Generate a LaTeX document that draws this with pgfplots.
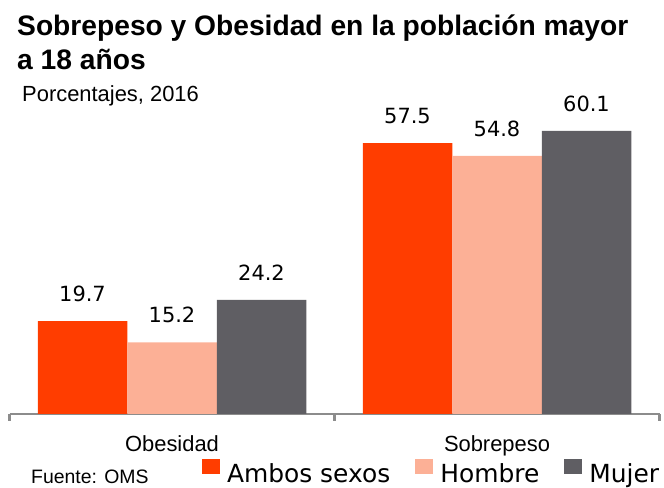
\documentclass[border=0pt]{standalone}
\usepackage{fontspec}
\setmainfont{Liberation Sans}
\newfontfamily\verd{DejaVu Sans}
\usepackage{pgfplots}
\pgfplotsset{compat=1.18}
\definecolor{ambos}{HTML}{FF3D00}
\definecolor{hombre}{HTML}{FCB096}
\definecolor{mujer}{HTML}{5F5E63}
\definecolor{axisgray}{HTML}{8C8C8C}

\begin{document}
\begin{tikzpicture}[x=1bp,y=1bp]
\useasboundingbox (0,0) rectangle (664,488);
% titles
\node[anchor=base west, inner sep=0, font=\bfseries\fontsize{28.3}{28}\selectfont]
  at (17,452) {Sobrepeso y Obesidad en la población mayor};
\node[anchor=base west, inner sep=0, font=\bfseries\fontsize{28.3}{28}\selectfont]
  at (17,418) {a 18 años};
\node[anchor=base west, inner sep=0, font=\fontsize{22}{22}\selectfont]
  at (22,386) {Porcentajes, 2016};
\node[anchor=base west, inner sep=0, font=\fontsize{19.5}{20}\selectfont]
  at (31,4) {Fuente: OMS};

\begin{axis}[
  at={(9.5bp,74bp)}, anchor=south west,
  scale only axis,
  width=650bp, height=310.9bp,
  xmin=-0.5, xmax=1.5, ymin=0, ymax=66,
  axis x line*=bottom,
  axis y line=none,
  x axis line style={draw=axisgray, line width=2.6bp, -},
  tick align=outside,
  xtick={0,1},
  xticklabels={Obesidad,Sobrepeso},
  major tick length=0pt,
  extra x ticks={-0.5,0.5,1.5},
  extra x tick labels={},
  extra x tick style={major tick length=7bp,
    tick style={draw=axisgray, line width=2.6bp}},
  xticklabel style={font=\fontsize{22}{22}\selectfont, anchor=base, yshift=-38bp},
  ybar=0pt, bar width=89.5bp,
  every axis plot post/.append style={
    legend image code/.code={\fill[#1] (0bp,0bp) rectangle (18bp,15bp);}},
  nodes near coords={\pgfmathprintnumber[fixed,fixed zerofill,precision=1,
    assume math mode=true]{\pgfplotspointmeta}},
  nodes near coords style={font=\verd\fontsize{21}{21}\selectfont,
    anchor=south, inner sep=0pt, yshift=19bp, text=black},
  clip=false,
  legend columns=3,
  legend style={at={(0,0)}, anchor=north west, xshift=192.5bp, yshift=-45bp,
    draw=none, fill=none, inner sep=0pt, outer sep=0pt,
    font=\verd\fontsize{25}{25}\selectfont,
    nodes={inner sep=0pt},
    /tikz/every even column/.append style={column sep=25bp},
    /tikz/every odd column/.append style={column sep=7bp}},
]
\addplot[fill=ambos, draw=none] coordinates {(0,19.7) (1,57.5)};
\addplot[fill=hombre, draw=none] coordinates {(0,15.2) (1,54.8)};
\addplot[fill=mujer, draw=none] coordinates {(0,24.2) (1,60.1)};
\legend{Ambos sexos, Hombre, Mujer}
\end{axis}
\end{tikzpicture}
\end{document}
